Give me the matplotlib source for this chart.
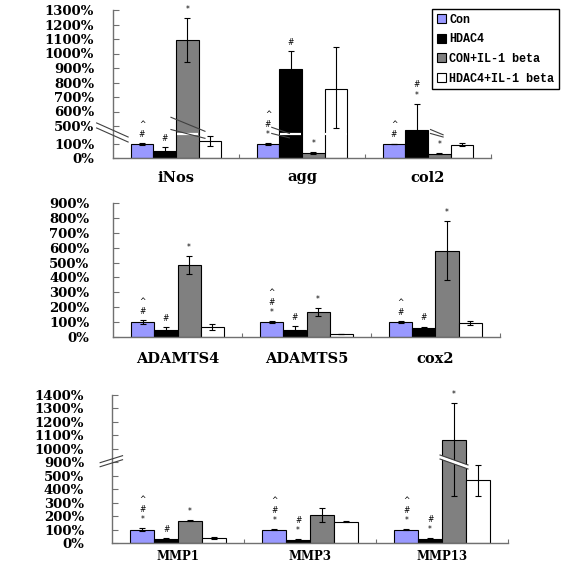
import numpy as np
import matplotlib.pyplot as plt
from matplotlib.patches import Patch

series = ["Con", "HDAC4", "CON+IL-1 beta", "HDAC4+IL-1 beta"]
colors = ["#9999ff", "#000000", "#808080", "#ffffff"]

# panel 1 (broken axis 100-500)
cats1 = ["iNos", "agg", "col2"]
vals1 = [[100, 100, 100], [50, 895, 398], [1090, 35, 30], [158, 757, 93]]
lo1 = [[13, 8, 0], [20, 120, 256], [146, 8, 5], [75, 310, 10]]
hi1 = [[13, 8, 0], [23, 120, 256], [153, 8, 5], [126, 285, 10]]
marks1 = [["^\n#", "^\n#\n*", "^\n#"], ["#", "#", "#\n*"], ["*", "*", "*"], ["", "", ""]]
ticks1 = [0, 100, 500, 600, 700, 800, 900, 1000, 1100, 1200, 1300]

# panel 2
cats2 = ["ADAMTS4", "ADAMTS5", "cox2"]
vals2 = [[100, 100, 100], [45, 49, 60], [483, 166, 580], [67, 20, 93]]
err2 = [[15, 8, 5], [22, 25, 10], [62, 27, 200], [18, 3, 15]]
marks2 = [["^\n#", "^\n#\n*", "^\n#"], ["#", "#", "#"], ["*", "*", "*"], ["", "", ""]]
ticks2 = list(range(0, 1000, 100))

# panel 3 (broken axis 500-900)
cats3 = ["MMP1", "MMP3", "MMP13"]
vals3 = [[100, 100, 100], [30, 20, 30], [166, 206, 1069], [37, 159, 465]]
lo3 = [[10, 5, 5], [5, 8, 5], [6, 50, 723], [10, 5, 119]]
hi3 = [[10, 5, 5], [5, 8, 5], [6, 55, 274], [10, 5, 363]]
marks3 = [["^\n#\n*", "^\n#\n*", "^\n#\n*"], ["#", "#\n*", "#\n*"], ["*", "", "*"], ["", "", ""]]
ticks3 = [0, 100, 200, 300, 400, 500, 900, 1000, 1100, 1200, 1300, 1400]

AXIS_COL = "#707070"
TICK_FONT = dict(family="DejaVu Serif", weight="bold", size=9.5)


def piecewise(vals, pos):
    def fwd(v):
        return np.interp(v, vals, pos)

    def inv(p):
        return np.interp(p, pos, vals)
    return fwd, inv


def draw_panel(ax, cats, vals, lo, hi, marks, ticks, ymax, pad, catpad, catsize):
    x = np.arange(len(cats))
    w = 0.18
    for k in range(4):
        xs = x + (k - 1.5) * w
        ax.bar(xs, vals[k], w, color=colors[k], edgecolor="black",
               linewidth=0.8, zorder=2)
        ax.errorbar(xs, vals[k], yerr=[lo[k], hi[k]], fmt="none",
                    ecolor="black", elinewidth=0.8, capsize=2.5,
                    capthick=0.8, zorder=3)
        for xi, v, h, m in zip(xs, vals[k], hi[k], marks[k]):
            if m:
                ax.annotate(m, (xi, v + h), xytext=(0, 3),
                            textcoords="offset points", ha="center",
                            va="bottom", fontsize=5.5, linespacing=1.15,
                            zorder=4)

    ax.set_xlim(-0.5, len(cats) - 0.5)
    ax.set_ylim(0, ymax)
    ax.set_yticks(ticks)
    ax.set_yticklabels([f"{t}%" for t in ticks], fontdict=TICK_FONT)
    ax.tick_params(axis="y", direction="in", length=4, color=AXIS_COL, pad=pad)

    ax.set_xticks(list(x[:-1] + 0.5) + [len(cats) - 0.5])
    ax.set_xticklabels([])
    ax.set_xticks(x, minor=True)
    ax.set_xticklabels(cats, minor=True, family="DejaVu Serif",
                       weight="bold", size=catsize)
    ax.tick_params(axis="x", which="major", direction="in", length=3, color=AXIS_COL)
    ax.tick_params(axis="x", which="minor", length=0, pad=catpad)

    for s in ["top", "right"]:
        ax.spines[s].set_visible(False)
    for s in ["left", "bottom"]:
        ax.spines[s].set_color(AXIS_COL)
        ax.spines[s].set_linewidth(1)


def slash(ax, x0, x1, y0, y1, color="#404040", lw=0.8):
    ax.plot([x0, x1], [y0, y1], color=color, lw=lw, clip_on=False, zorder=5)


fig = plt.figure(figsize=(5.67, 5.62), dpi=100)
W, H = 567, 562

# panel 1
ax1 = fig.add_axes([113 / W, 1 - 158 / H, 378 / W, 148 / H])
ax1.set_yscale("function", functions=piecewise([0, 100, 500, 1300], [0, 14.4, 32, 148]))
draw_panel(ax1, cats1, vals1, lo1, hi1, marks1, ticks1, 1300, 13.5, 9, 10.5)
# break band across tall bars
for k in range(4):
    for i in range(3):
        if vals1[k][i] > 500:
            xi = i + (k - 1.5) * 0.18
            ax1.hlines(318, xi - 0.085, xi + 0.085, color="white", lw=1.6, zorder=4)
slash(ax1, -0.63, -0.38, 455, 136)
slash(ax1, -0.63, -0.38, 521, 250)
slash(ax1, -0.04, 0.23, 560, 380)
slash(ax1, -0.04, 0.23, 420, 220)
slash(ax1, 0.76, 0.9, 470, 330)
slash(ax1, 0.76, 0.9, 330, 230)
slash(ax1, 2.02, 2.12, 420, 300)
slash(ax1, 2.02, 2.12, 330, 250)

# panel 2
ax2 = fig.add_axes([113 / W, 1 - 337 / H, 387 / W, 134 / H])
draw_panel(ax2, cats2, vals2, err2, err2, marks2, ticks2, 900, 17, 10.5, 10.5)

# panel 3
ax3 = fig.add_axes([112 / W, 1 - 543 / H, 396 / W, 148 / H])
ax3.set_yscale("function", functions=piecewise([0, 500, 900, 1400], [0, 500, 600, 1100]))
draw_panel(ax3, cats3, vals3, lo3, hi3, marks3, ticks3, 1400, 20, 5, 8.5)
slash(ax3, -0.59, -0.42, 768, 919)
slash(ax3, -0.59, -0.42, 888, 949)
slash(ax3, 1.985, 2.197, 939, 760, color="white", lw=2.5)
slash(ax3, 1.985, 2.197, 954, 820)
slash(ax3, 1.985, 2.197, 924, 700)

handles = [Patch(facecolor=c, edgecolor="black", linewidth=0.8) for c in colors]
leg = fig.legend(handles, series, loc="upper right",
                 bbox_to_anchor=(559 / W, 1 - 9 / H), borderaxespad=0,
                 prop=dict(family="Liberation Mono", weight="bold", size=8.5),
                 handlelength=0.8, handleheight=0.8, handletextpad=0.25,
                 borderpad=0.4, labelspacing=0.65, fancybox=False,
                 framealpha=1, edgecolor="black")
leg.get_frame().set_linewidth(1)

fig.savefig("out.png", dpi=100)
